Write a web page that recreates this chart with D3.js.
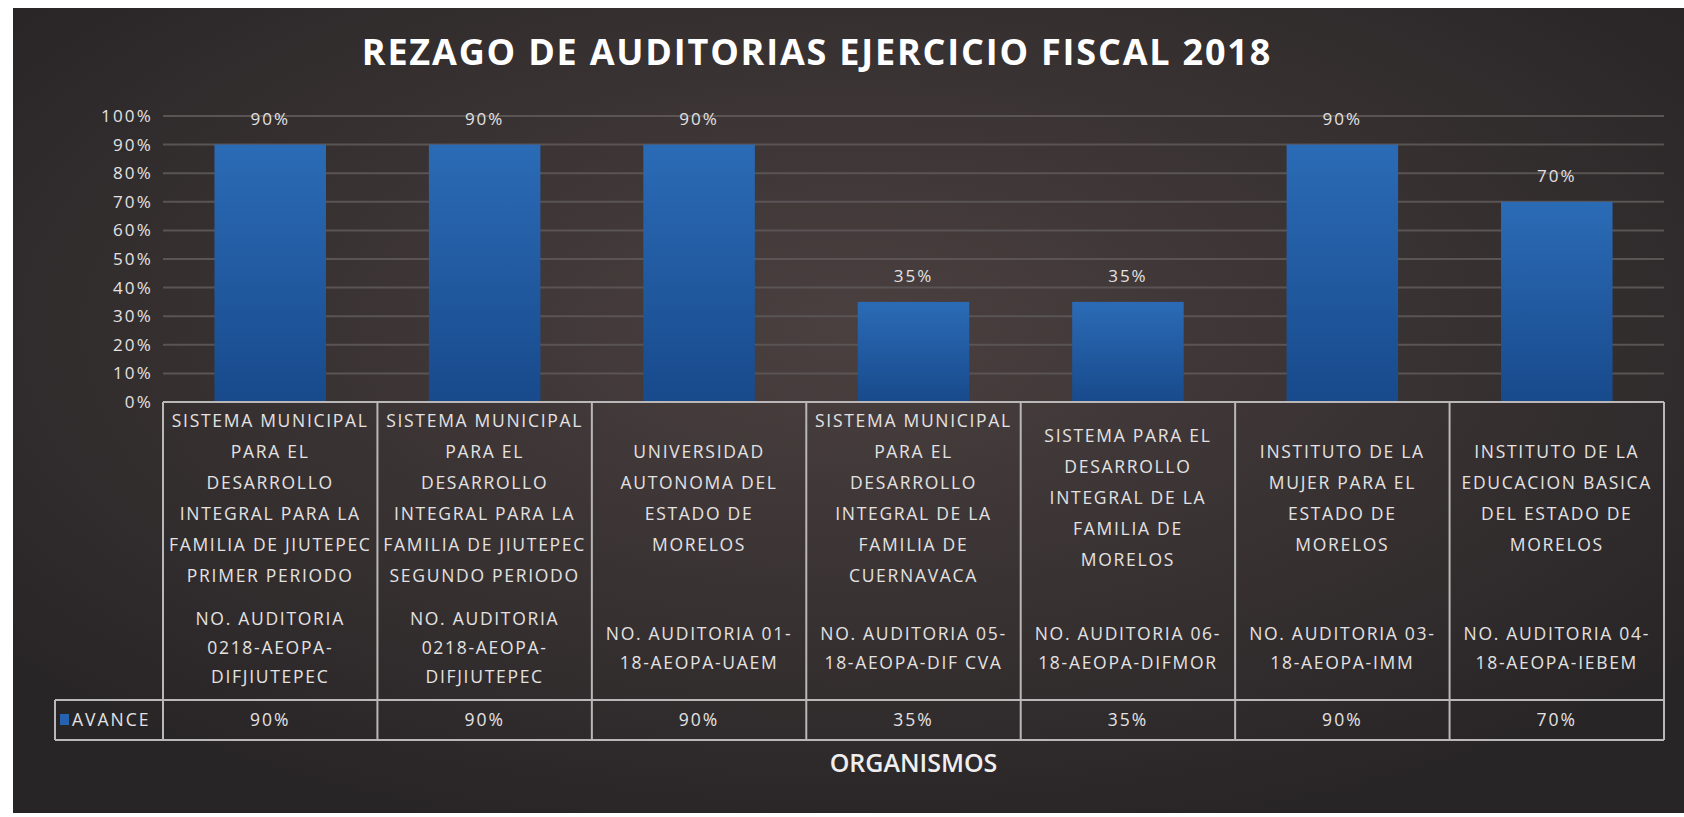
<!DOCTYPE html>
<html>
<head>
<meta charset="utf-8">
<script src="https://d3js.org/d3.v7.min.js"></script>
<style>
  html, body { margin: 0; padding: 0; background: #fff; }
  svg { display: block; }
  text { font-family: "Open Sans", "DejaVu Sans", sans-serif; }
</style>
</head>
<body>
<svg id="chart" width="1684" height="817"></svg>
<script>
// ── Data ──
const TITLE = 'REZAGO DE AUDITORIAS EJERCICIO FISCAL 2018';
const SERIES_NAME = 'AVANCE';
const AXIS_TITLE = 'ORGANISMOS';

const organismos = [
  ['SISTEMA MUNICIPAL', 'PARA EL', 'DESARROLLO', 'INTEGRAL PARA LA', 'FAMILIA DE JIUTEPEC', 'PRIMER PERIODO'],
  ['SISTEMA MUNICIPAL', 'PARA EL', 'DESARROLLO', 'INTEGRAL PARA LA', 'FAMILIA DE JIUTEPEC', 'SEGUNDO PERIODO'],
  ['UNIVERSIDAD', 'AUTONOMA DEL', 'ESTADO DE', 'MORELOS'],
  ['SISTEMA MUNICIPAL', 'PARA EL', 'DESARROLLO', 'INTEGRAL DE LA', 'FAMILIA DE', 'CUERNAVACA'],
  ['SISTEMA PARA EL', 'DESARROLLO', 'INTEGRAL DE LA', 'FAMILIA DE', 'MORELOS'],
  ['INSTITUTO DE LA', 'MUJER PARA EL', 'ESTADO DE', 'MORELOS'],
  ['INSTITUTO DE LA', 'EDUCACION BASICA', 'DEL ESTADO DE', 'MORELOS'],
];

const auditorias = [
  ['NO. AUDITORIA', '0218-AEOPA-', 'DIFJIUTEPEC'],
  ['NO. AUDITORIA', '0218-AEOPA-', 'DIFJIUTEPEC'],
  ['NO. AUDITORIA 01-', '18-AEOPA-UAEM'],
  ['NO. AUDITORIA 05-', '18-AEOPA-DIF CVA'],
  ['NO. AUDITORIA 06-', '18-AEOPA-DIFMOR'],
  ['NO. AUDITORIA 03-', '18-AEOPA-IMM'],
  ['NO. AUDITORIA 04-', '18-AEOPA-IEBEM'],
];

const avance = [0.90, 0.90, 0.90, 0.35, 0.35, 0.90, 0.70];

const yTicks = [0, 0.1, 0.2, 0.3, 0.4, 0.5, 0.6, 0.7, 0.8, 0.9, 1.0];

// ── Layout ──
const W = 1684, H = 817;
const plot = { left: 163, right: 1664, top: 116, bottom: 402 };
const table = { top: 402, mid: 700, bottom: 740, legendLeft: 55 };
const TEXT = '#e4e2e2';
const LINE = '#b9b7b7';
const pct = d3.format('.0%');

const svg = d3.select('#chart');
const defs = svg.append('defs');

const bg = defs.append('radialGradient').attr('id', 'bg')
  .attr('cx', '50%').attr('cy', '40%').attr('r', '65%');
bg.append('stop').attr('offset', '0%').attr('stop-color', '#4b4040');
bg.append('stop').attr('offset', '100%').attr('stop-color', '#282526');

const barGrad = defs.append('linearGradient').attr('id', 'bar')
  .attr('x1', 0).attr('y1', 0).attr('x2', 0).attr('y2', 1);
barGrad.append('stop').attr('offset', '0%').attr('stop-color', '#2b6bb6');
barGrad.append('stop').attr('offset', '100%').attr('stop-color', '#184a8c');

// background panel
svg.append('rect').attr('x', 13).attr('y', 8).attr('width', W - 13).attr('height', 805)
  .attr('fill', 'url(#bg)');

// title
svg.append('text').attr('x', 817).attr('y', 65).attr('text-anchor', 'middle')
  .attr('fill', '#ffffff').attr('font-size', 36).attr('font-weight', 700)
  .attr('letter-spacing', 1.8).text(TITLE);

// scales
const idx = avance.map((d, i) => i);
const x = d3.scaleBand().domain(idx).range([plot.left, plot.right]).paddingInner(0).paddingOuter(0);
const y = d3.scaleLinear().domain([0, 1]).range([plot.bottom, plot.top]);
const barW = x.bandwidth() * 0.52;

// gridlines
svg.append('g').selectAll('line').data(yTicks.slice(1)).enter().append('line')
  .attr('x1', plot.left).attr('x2', plot.right)
  .attr('y1', d => y(d)).attr('y2', d => y(d))
  .attr('stroke', '#5a5454').attr('stroke-width', 2);

// y axis labels
const yAxis = svg.append('g').attr('transform', `translate(${plot.left - 10},0)`)
  .call(d3.axisLeft(y).tickValues(yTicks).tickFormat(pct).tickSize(0).tickPadding(0));
yAxis.select('.domain').remove();
yAxis.selectAll('text').attr('fill', TEXT).attr('font-size', 17).attr('letter-spacing', 2.2)
  .attr('font-family', '"Open Sans", sans-serif');

// bars
svg.append('g').selectAll('rect').data(avance).enter().append('rect')
  .attr('x', (d, i) => x(i) + (x.bandwidth() - barW) / 2)
  .attr('y', d => y(d))
  .attr('width', barW)
  .attr('height', d => y(0) - y(d))
  .attr('fill', 'url(#bar)');

// data labels
svg.append('g').selectAll('text').data(avance).enter().append('text')
  .attr('x', (d, i) => x(i) + x.bandwidth() / 2)
  .attr('y', d => y(d) - 20)
  .attr('text-anchor', 'middle').attr('fill', TEXT)
  .attr('font-size', 17).attr('letter-spacing', 2)
  .text(pct);

// ── Data table ──
const tg = svg.append('g').attr('fill', 'none').attr('stroke', LINE).attr('stroke-width', 2);
tg.append('line').attr('x1', plot.left).attr('x2', plot.right).attr('y1', table.top).attr('y2', table.top);
tg.append('line').attr('x1', table.legendLeft).attr('x2', plot.right).attr('y1', table.mid).attr('y2', table.mid);
tg.append('line').attr('x1', table.legendLeft).attr('x2', plot.right).attr('y1', table.bottom).attr('y2', table.bottom);
tg.append('line').attr('x1', table.legendLeft).attr('x2', table.legendLeft).attr('y1', table.mid).attr('y2', table.bottom);
tg.selectAll('.col').data(idx.concat([idx.length])).enter().append('line')
  .attr('x1', i => i < idx.length ? x(i) : plot.right)
  .attr('x2', i => i < idx.length ? x(i) : plot.right)
  .attr('y1', table.top).attr('y2', table.bottom);

const cells = svg.append('g').selectAll('g').data(idx).enter().append('g')
  .attr('transform', i => `translate(${x(i) + x.bandwidth() / 2},0)`)
  .attr('fill', TEXT).attr('font-size', 17.5).attr('letter-spacing', 1.7)
  .attr('text-anchor', 'middle');

const nameLH = 31, auditLH = 29;
cells.each(function (i) {
  const g = d3.select(this);
  const names = organismos[i];
  const n0 = 498 - (names.length - 1) * nameLH / 2 + 6;
  names.forEach((t, k) => g.append('text').attr('y', n0 + k * nameLH).text(t));
  const aud = auditorias[i];
  const a0 = 648 - (aud.length - 1) * auditLH / 2 + 6;
  aud.forEach((t, k) => g.append('text').attr('y', a0 + k * auditLH).text(t));
  g.append('text').attr('y', (table.mid + table.bottom) / 2 + 6).attr('letter-spacing', 2)
    .text(pct(avance[i]));
});

// legend key
svg.append('rect').attr('x', 60).attr('y', 714).attr('width', 9).attr('height', 11).attr('fill', '#2563b0');
svg.append('text').attr('x', 72).attr('y', 726).attr('fill', TEXT).attr('font-size', 17.5)
  .attr('letter-spacing', 2).text(SERIES_NAME);

// axis title
svg.append('text').attr('x', (plot.left + plot.right) / 2).attr('y', 772)
  .attr('text-anchor', 'middle').attr('fill', '#f0eeee')
  .attr('font-size', 25).attr('font-weight', 600).text(AXIS_TITLE);
</script>
</body>
</html>
